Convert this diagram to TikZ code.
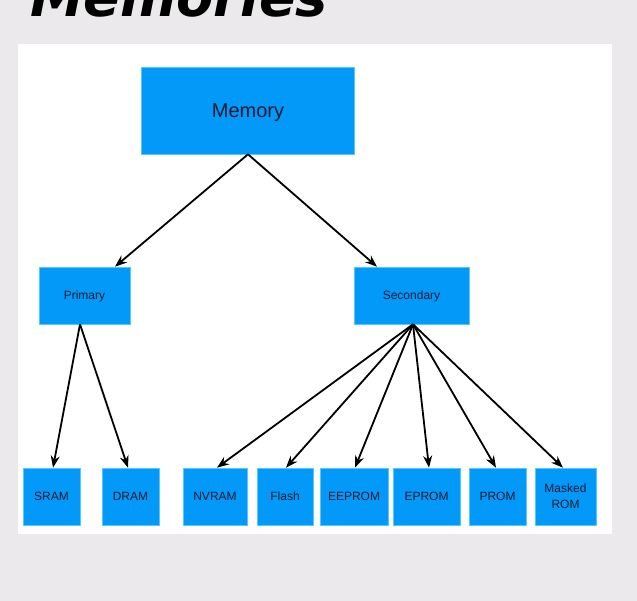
\documentclass[tikz,border=0pt]{standalone}
\usepackage{fontspec}
\setmainfont{Liberation Sans}
\newfontfamily\titlefont{DejaVu Sans}
\usetikzlibrary{arrows.meta}
\definecolor{bgray}{HTML}{EBE9EC}
\definecolor{boxblue}{HTML}{0399F9}
\definecolor{boxedge}{HTML}{55C8FF}
\definecolor{txt}{HTML}{0A1A33}
\tikzset{
  box/.style={fill=boxblue, draw=boxedge, line width=0.6pt, text=txt, inner sep=0pt, align=center},
  conn/.style={line width=1.8pt, -{Stealth[length=12pt,width=9pt]}},
}
\begin{document}
\begin{tikzpicture}[x=1pt,y=-1pt]
\useasboundingbox (0,0) rectangle (637,601);
\clip (0,0) rectangle (637,601);
\fill[bgray] (0,0) rectangle (637,601);
\fill[white] (18,44) rectangle (612,534);
\node[anchor=base west, font=\titlefont\bfseries\itshape\fontsize{54}{60}\selectfont, inner sep=0pt] (title) at (30,17) {Memories};
% nodes
\node[box, minimum width=213pt, minimum height=87pt, text depth=0pt, font=\fontsize{20}{24}\selectfont] (mem) at (248,110.5) {Memory};
\node[box, minimum width=91pt, minimum height=57pt, text depth=0pt, font=\fontsize{12}{14}\selectfont] (pri) at (84.5,295.5) {Primary};
\node[box, minimum width=115pt, minimum height=57pt, text depth=0pt, font=\fontsize{12}{14}\selectfont] (sec) at (411.5,295.5) {Secondary};
\tikzset{leaf/.style={box, minimum height=57pt, font=\fontsize{12}{14}\selectfont}}
\node[leaf, minimum width=57pt] (sram) at (51.5,496.5) {SRAM};
\node[leaf, minimum width=57pt] (dram) at (130.5,496.5) {DRAM};
\node[leaf, minimum width=64pt] (nvram) at (215,496.5) {NVRAM};
\node[leaf, minimum width=56pt] (flash) at (285,496.5) {Flash};
\node[leaf, minimum width=68pt] (eeprom) at (354,496.5) {EEPROM};
\node[leaf, minimum width=67pt] (eprom) at (426.5,496.5) {EPROM};
\node[leaf, minimum width=57pt] (prom) at (497.5,496.5) {PROM};
\node[leaf, minimum width=61pt, font=\fontsize{12}{16}\selectfont] (mrom) at (565.5,496.5) {Masked\\ROM};
% connectors
\draw[conn] (mem.south) -- ([xshift=30.5pt]pri.north);
\draw[conn] (mem.south) -- ([xshift=-34.5pt]sec.north);
\coordinate (pb) at ([xshift=-4.5pt]pri.south);
\draw[conn] (pb) -- ([xshift=1.5pt]sram.north);
\draw[conn] (pb) -- ([xshift=-2.5pt]dram.north);
\coordinate (sb) at ([xshift=1.5pt]sec.south);
\draw[conn] (sb) -- ([xshift=2pt]nvram.north);
\draw[conn] (sb) -- ([xshift=1pt]flash.north);
\draw[conn] (sb) -- ([xshift=1pt]eeprom.north);
\draw[conn] (sb) -- ([xshift=2.5pt]eprom.north);
\draw[conn] (sb) -- ([xshift=-1.5pt]prom.north);
\draw[conn] (sb) -- ([xshift=-2.5pt]mrom.north);
\end{tikzpicture}
\end{document}
